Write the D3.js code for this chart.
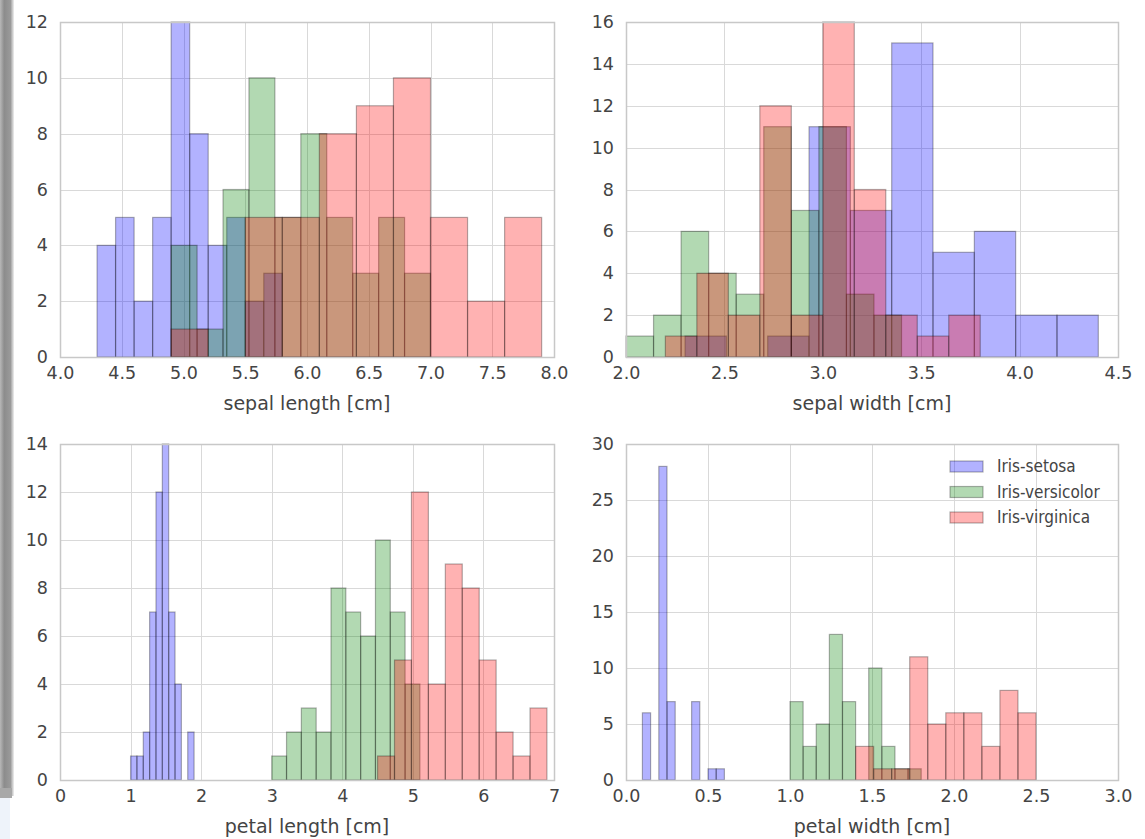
<!DOCTYPE html>
<html>
<head>
<meta charset="utf-8">
<script src="https://cdn.jsdelivr.net/npm/d3@7"></script>
<style>
  html, body { margin: 0; padding: 0; background: #fff; }
  svg { display: block; }
  .tick text { font-family: "DejaVu Sans", sans-serif; fill: #444; }
</style>
</head>
<body>
<svg id="chart" width="1145" height="839"></svg>
<script>
// ---- data (bin counts, 10 bins per species between its min and max) ----
const species = ["Iris-setosa", "Iris-versicolor", "Iris-virginica"];
const speciesColors = ["#0000ff", "#008000", "#ff0000"];
const featureLabels = ["sepal length [cm]", "sepal width [cm]", "petal length [cm]", "petal width [cm]"];

const sepalLengthRanges = [[4.3, 5.8], [4.9, 7.0], [4.9, 7.9]];
const sepalLengthCounts = [
  [4, 5, 2, 5, 12, 8, 4, 5, 2, 3],
  [4, 1, 6, 10, 5, 8, 5, 3, 5, 3],
  [1, 0, 5, 5, 8, 9, 10, 5, 2, 5]
];
const sepalWidthRanges = [[2.3, 4.4], [2.0, 3.4], [2.2, 3.8]];
const sepalWidthCounts = [
  [1, 0, 1, 11, 7, 15, 5, 6, 2, 2],
  [1, 2, 6, 4, 3, 11, 7, 11, 3, 2],
  [1, 4, 2, 12, 2, 16, 8, 2, 1, 2]
];
const petalLengthRanges = [[1.0, 1.9], [3.0, 5.1], [4.5, 6.9]];
const petalLengthCounts = [
  [1, 1, 2, 7, 12, 14, 7, 4, 0, 2],
  [1, 2, 3, 2, 8, 7, 6, 10, 7, 4],
  [1, 5, 12, 4, 9, 8, 5, 2, 1, 3]
];
const petalWidthRanges = [[0.1, 0.6], [1.0, 1.8], [1.4, 2.5]];
const petalWidthCounts = [
  [6, 0, 28, 7, 0, 0, 7, 0, 1, 1],
  [7, 3, 5, 13, 7, 0, 10, 3, 1, 1],
  [3, 1, 1, 11, 5, 6, 6, 3, 8, 6]
];

const sepalLengthXTicks = [4.0, 4.5, 5.0, 5.5, 6.0, 6.5, 7.0, 7.5, 8.0];
const sepalWidthXTicks = [2.0, 2.5, 3.0, 3.5, 4.0, 4.5];
const petalLengthXTicks = [0, 1, 2, 3, 4, 5, 6, 7];
const petalWidthXTicks = [0.0, 0.5, 1.0, 1.5, 2.0, 2.5, 3.0];
const sepalLengthYTicks = [0, 2, 4, 6, 8, 10, 12];
const sepalWidthYTicks = [0, 2, 4, 6, 8, 10, 12, 14, 16];
const petalLengthYTicks = [0, 2, 4, 6, 8, 10, 12, 14];
const petalWidthYTicks = [0, 5, 10, 15, 20, 25, 30];

// ---- layout ----
const panels = [
  { label: featureLabels[0], ranges: sepalLengthRanges, counts: sepalLengthCounts, xt: sepalLengthXTicks, yt: sepalLengthYTicks, xfmt: d3.format(".1f"), box: [60, 554, 22, 357] },
  { label: featureLabels[1], ranges: sepalWidthRanges, counts: sepalWidthCounts, xt: sepalWidthXTicks, yt: sepalWidthYTicks, xfmt: d3.format(".1f"), box: [626, 1118, 22, 357] },
  { label: featureLabels[2], ranges: petalLengthRanges, counts: petalLengthCounts, xt: petalLengthXTicks, yt: petalLengthYTicks, xfmt: d3.format("d"), box: [60, 554, 444, 780] },
  { label: featureLabels[3], ranges: petalWidthRanges, counts: petalWidthCounts, xt: petalWidthXTicks, yt: petalWidthYTicks, xfmt: d3.format(".1f"), box: [626, 1118, 444, 780], legend: true }
];

const svg = d3.select("#chart");

// screenshot frame shadow on the left edge
const defs = svg.append("defs");
const g1 = defs.append("linearGradient").attr("id", "edge").attr("x1", 0).attr("x2", 1).attr("y1", 0).attr("y2", 0);
g1.append("stop").attr("offset", "0%").attr("stop-color", "#b8b8b8");
g1.append("stop").attr("offset", "30%").attr("stop-color", "#8c8c8c");
g1.append("stop").attr("offset", "75%").attr("stop-color", "#9a9a9a");
g1.append("stop").attr("offset", "100%").attr("stop-color", "#f0f0f0");
svg.append("rect").attr("x", 0).attr("y", 0).attr("width", 14).attr("height", 796).attr("fill", "url(#edge)");
svg.append("rect").attr("x", 0).attr("y", 788).attr("width", 12).attr("height", 10).attr("fill", "#a8a8a8");
svg.append("rect").attr("x", 0).attr("y", 798).attr("width", 10).attr("height", 41).attr("fill", "#eef3fa");

panels.forEach(p => {
  const [x0, x1, y0, y1] = p.box;
  const x = d3.scaleLinear().domain([p.xt[0], p.xt[p.xt.length - 1]]).range([x0, x1]);
  const y = d3.scaleLinear().domain([p.yt[0], p.yt[p.yt.length - 1]]).range([y1, y0]);
  const g = svg.append("g");

  // grid
  g.append("g").selectAll("line.vx").data(p.xt).join("line")
    .attr("x1", d => Math.round(x(d)) + 0.5).attr("x2", d => Math.round(x(d)) + 0.5)
    .attr("y1", y0).attr("y2", y1).attr("stroke", "#d9d9d9").attr("stroke-width", 1);
  g.append("g").selectAll("line.hy").data(p.yt).join("line")
    .attr("y1", d => Math.round(y(d)) + 0.5).attr("y2", d => Math.round(y(d)) + 0.5)
    .attr("x1", x0).attr("x2", x1).attr("stroke", "#d9d9d9").attr("stroke-width", 1);

  // bars
  species.forEach((s, si) => {
    const [lo, hi] = p.ranges[si];
    const w = (hi - lo) / 10;
    const bins = p.counts[si].map((c, i) => ({ a: lo + i * w, b: lo + (i + 1) * w, c }));
    g.append("g").selectAll("rect").data(bins.filter(d => d.c > 0)).join("rect")
      .attr("x", d => x(d.a)).attr("width", d => x(d.b) - x(d.a))
      .attr("y", d => y(d.c)).attr("height", d => y(0) - y(d.c))
      .attr("fill", speciesColors[si]).attr("fill-opacity", 0.3)
      .attr("stroke", "#000").attr("stroke-opacity", 0.3).attr("stroke-width", 1.2);
  });

  // frame
  g.append("rect").attr("x", x0 + 0.5).attr("y", y0 + 0.5).attr("width", x1 - x0).attr("height", y1 - y0)
    .attr("fill", "none").attr("stroke", "#c8c8c8").attr("stroke-width", 1.5);

  // axes
  const xa = d3.axisBottom(x).tickValues(p.xt).tickFormat(p.xfmt).tickSize(0).tickPadding(10);
  const gx = g.append("g").attr("transform", `translate(0,${y1})`).call(xa);
  gx.select(".domain").remove();
  gx.selectAll("text").style("font-size", "17.5px");

  const ya = d3.axisLeft(y).tickValues(p.yt).tickSize(0).tickPadding(12);
  const gy = g.append("g").attr("transform", `translate(${x0},0)`).call(ya);
  gy.select(".domain").remove();
  gy.selectAll("text").style("font-size", "17.5px");

  g.append("text").attr("x", (x0 + x1) / 2).attr("y", y1 + 53)
    .attr("text-anchor", "middle").attr("font-family", "DejaVu Sans, sans-serif")
    .attr("font-size", "19px").attr("fill", "#444").text(p.label);

  if (p.legend) {
    const lg = g.append("g");
    species.forEach((s, si) => {
      const yy = 461 + si * 25.5;
      lg.append("rect").attr("x", 950).attr("y", yy).attr("width", 33).attr("height", 11)
        .attr("fill", speciesColors[si]).attr("fill-opacity", 0.3)
        .attr("stroke", "#000").attr("stroke-opacity", 0.3).attr("stroke-width", 1.2);
      lg.append("text").attr("x", 997).attr("y", yy + 11)
        .attr("font-family", "DejaVu Sans Condensed, DejaVu Sans, sans-serif")
        .attr("font-stretch", "condensed")
        .attr("font-size", "17px").attr("fill", "#444").text(s);
    });
  }
});
</script>
</body>
</html>
